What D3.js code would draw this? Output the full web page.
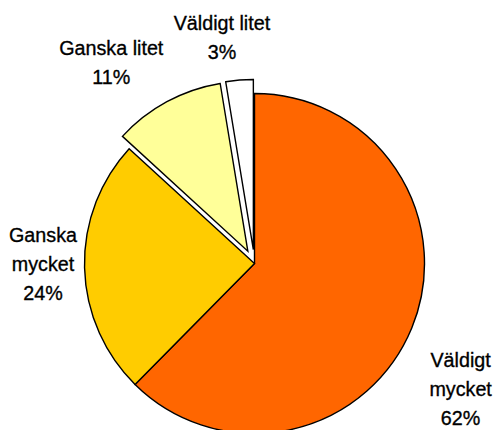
<!DOCTYPE html>
<html>
<head>
<meta charset="utf-8">
<script src="https://cdn.jsdelivr.net/npm/d3@7"></script>
<style>
    html, body { margin: 0; padding: 0; background: #fff; }
    svg { display: block; }
    .lbl { font-family: "Liberation Sans Narrow", "Arial Narrow", "Liberation Sans", sans-serif; font-size: 21px; fill: #000; stroke: #000; stroke-width: 0.35px; }
</style>
</head>
<body>
<div id="chart"></div>
<script>
    // Data
    var categories = ["Väldigt mycket", "Ganska mycket", "Ganska litet", "Väldigt litet"];
    var shares = [62.4, 24.4, 10.6, 2.6];
    var colors = ["#FF6600", "#FFCC00", "#FFFF99", "#FFFFFF"];
    var exploded = [false, false, true, true];

    var width = 495, height = 430;
    var cx = 254.5, cy = 263.5, radius = 170;
    var explodeBy = 14;

    var svg = d3.select("#chart").append("svg")
        .attr("width", width)
        .attr("height", height);

    var pie = d3.pie().sort(null).value(function(d) { return d; });
    var arcs = pie(shares);

    var arc = d3.arc().innerRadius(0).outerRadius(radius);

    function mid(d) { return (d.startAngle + d.endAngle) / 2; }

    var g = svg.append("g").attr("transform", "translate(" + cx + "," + cy + ")");

    g.selectAll("path.slice")
        .data(arcs)
        .enter()
        .append("path")
        .attr("class", "slice")
        .attr("d", arc)
        .attr("fill", function(d, i) { return colors[i]; })
        .attr("stroke", "#000")
        .attr("stroke-width", 1.4)
        .attr("stroke-linejoin", "miter")
        .attr("transform", function(d, i) {
            if (!exploded[i]) return null;
            var a = mid(d);
            return "translate(" + (Math.sin(a) * explodeBy) + "," + (-Math.cos(a) * explodeBy) + ")";
        });

    // label placement: angle nudge (deg) and distance from centre, per slice
    var labelPlace = [
        { da: 8.9, r: 241 },
        { da: 1.4, r: 211.5 },
        { da: -7, r: 247 },
        { da: -3.5, r: 229 }
    ];

    // split category text into lines the way the chart wraps it
    function labelLines(i) {
        var pct = Math.round(shares[i]) + "%";
        var words = categories[i].split(" ");
        if (i === 0 || i === 1) return [words[0], words[1], pct];
        return [categories[i], pct];
    }

    var lineH = 29.3;
    var squeeze = 0.94;

    g.selectAll("text.lbl")
        .data(arcs)
        .enter()
        .append("text")
        .attr("class", "lbl")
        .attr("text-anchor", "middle")
        .each(function(d, i) {
            var a = mid(d) + labelPlace[i].da * Math.PI / 180;
            var x = Math.sin(a) * labelPlace[i].r;
            var y = -Math.cos(a) * labelPlace[i].r;
            var lines = labelLines(i);
            var y0 = -(lines.length - 1) * lineH / 2 + 7.5;
            d3.select(this)
                .attr("transform", "translate(" + x + "," + y + ") scale(" + squeeze + ",1)");
            d3.select(this).selectAll("tspan")
                .data(lines)
                .enter()
                .append("tspan")
                .attr("x", 0)
                .attr("y", function(t, k) { return y0 + k * lineH; })
                .text(function(t) { return t; });
        });
</script>
</body>
</html>
